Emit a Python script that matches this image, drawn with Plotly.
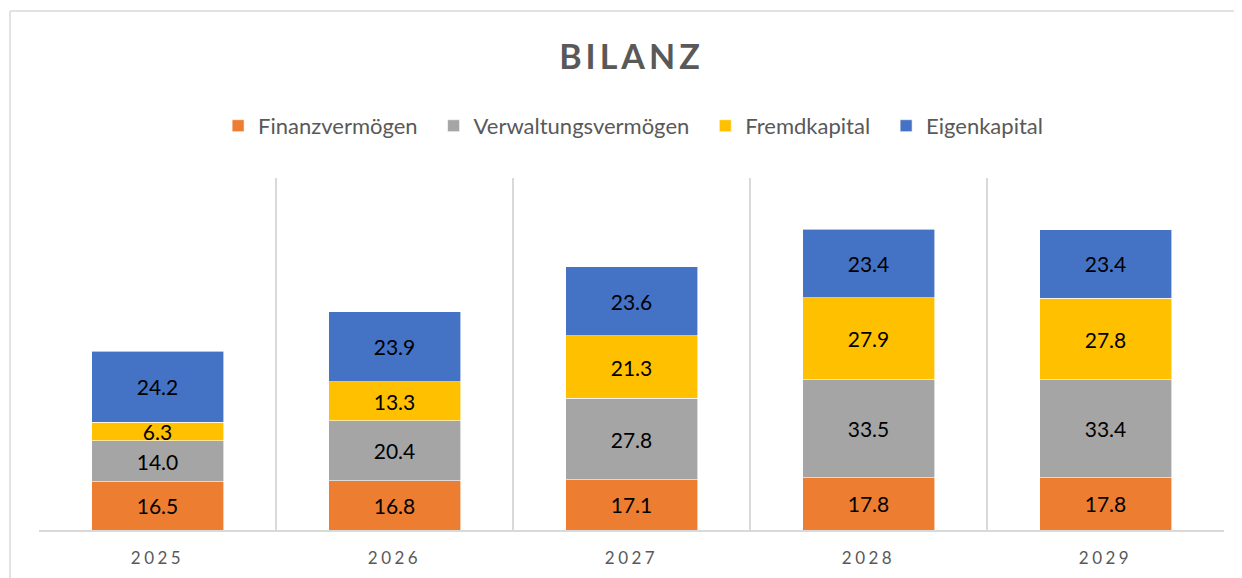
import plotly.graph_objects as go

years = ["2025", "2026", "2027", "2028", "2029"]
finanz = [16.5, 16.8, 17.1, 17.8, 17.8]
verwaltung = [14.0, 20.4, 27.8, 33.5, 33.4]
fremd = [6.3, 13.3, 21.3, 27.9, 27.8]
eigen = [24.2, 23.9, 23.6, 23.4, 23.4]

series = [
    ("Finanzvermögen", finanz, "#ED7D31"),
    ("Verwaltungsvermögen", verwaltung, "#A5A5A5"),
    ("Fremdkapital", fremd, "#FFC000"),
    ("Eigenkapital", eigen, "#4472C4"),
]

FONT = "Lato, 'Open Sans', sans-serif"

fig = go.Figure()
for name, vals, col in series:
    fig.add_trace(go.Bar(
        x=years, y=vals, name=name + "\u2002",
        marker=dict(color=col, line=dict(color="white", width=0.6)),
        texttemplate="%{y:.1f}", textposition="inside",
        insidetextanchor="middle", constraintext="none",
        textfont=dict(family=FONT, size=21, color="#000000"),
        hoverinfo="skip",
    ))

# page body has an 8px margin; figure coordinates are offset by it
W, H = 1234, 570
PW = 1185
PH = 352
fig.update_layout(
    barmode="stack", bargap=0.443,
    width=W, height=H,
    margin=dict(l=31, r=18, t=170, b=48, autoexpand=False),
    paper_bgcolor="white", plot_bgcolor="white",
    font=dict(family=FONT, color="#595959"),
    title=dict(
        text='<b><span style="letter-spacing:4px">BILANZ</span></b>',
        x=0.5, xref="paper", xanchor="center",
        y=1 - 49 / H, yref="container", yanchor="middle",
        font=dict(family=FONT, size=34, color="#595959"),
    ),
    legend=dict(
        orientation="h", x=0.506, xanchor="center", y=1.148, yanchor="middle",
        font=dict(family=FONT, size=22, color="#595959"),
        traceorder="normal", itemclick=False, itemwidth=30,
    ),
    xaxis=dict(
        type="category", tickson="boundaries", showgrid=True,
        gridcolor="#D9D9D9", gridwidth=2, ticks="",
        showline=True, linecolor="#D9D9D9", linewidth=2,
        tickfont=dict(family=FONT, size=17, color="#595959"),
        ticklabelstandoff=12, automargin=False,
        tickvals=years,
        ticktext=[f'<span style="letter-spacing:3.5px">{y}</span>' for y in years],
    ),
    yaxis=dict(range=[0, 120], visible=False, showgrid=False, automargin=False),
    shapes=[
        dict(type="line", xref="paper", yref="paper",
             x0=(2 - 31) / PW, x1=(W - 31) / PW,
             y0=(522 - 3) / PH, y1=(522 - 3) / PH,
             line=dict(color="#D9D9D9", width=1.5), layer="below"),
        dict(type="line", xref="paper", yref="paper",
             x0=(2 - 31) / PW, x1=(2 - 31) / PW,
             y0=(522 - H) / PH, y1=(522 - 3) / PH,
             line=dict(color="#D9D9D9", width=1.5), layer="below"),
    ],
)

fig.write_html(
    "out.html",
    config={"displayModeBar": False},
    post_script="document.documentElement.style.overflow='hidden';document.body.style.overflow='hidden';",
)
